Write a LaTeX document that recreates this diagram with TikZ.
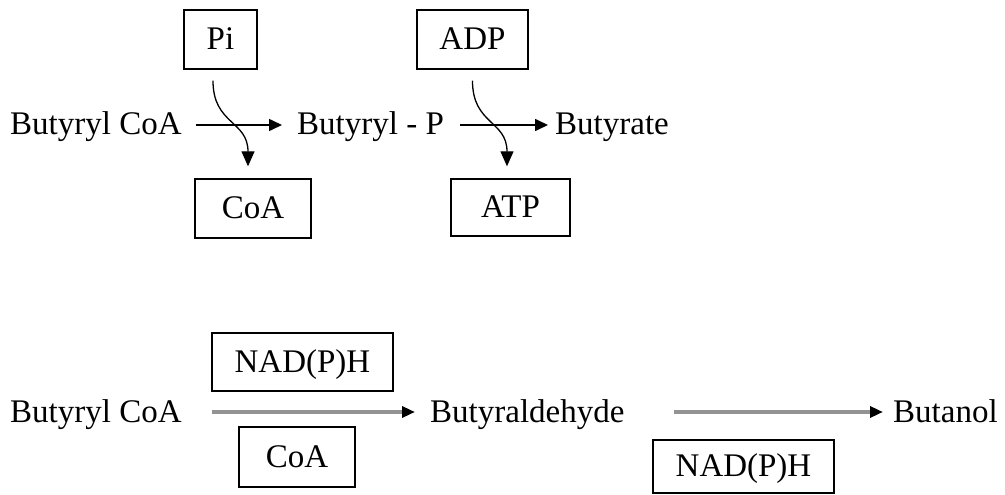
\documentclass[tikz,border=0pt]{standalone}
\usepackage{fontspec}
\setmainfont{Liberation Serif}
\usepackage{tikz}
\usetikzlibrary{arrows.meta, positioning}

\begin{document}
\begin{tikzpicture}[x=1pt, y=-1pt,
  every node/.style={font=\fontsize{33}{40}\selectfont},
  chem/.style={inner sep=0pt, anchor=west, text height=25pt, text depth=5pt},
  box/.style={draw, line width=1.4pt, inner sep=0pt, text height=25pt, text depth=5pt},
  arr/.style={line width=1.6pt, -{Triangle[length=13pt, width=12pt]}},
  sidearr/.style={line width=1.3pt, -{Triangle[length=15pt, width=13pt]}},
  garr/.style={line width=3.5pt, draw=gray!85, -{Triangle[length=13pt, width=11pt, color=black, fill=black]}}]
\useasboundingbox (0,0) rectangle (1005,495);

\node[chem] (bcoa1) at (10,125) {Butyryl CoA};
\node[chem] (bp) at (297,125) {Butyryl - P};
\node[chem] (bt) at (555,125) {Butyrate};
\node[box, minimum width=73pt, minimum height=59pt] (pi) at (220.5,39.5) {Pi};
\node[box, minimum width=111pt, minimum height=59pt] (adp) at (472.5,39.5) {ADP};
\node[box, minimum width=116pt, minimum height=59pt] (coa1) at (253,208.5) {CoA};
\node[box, minimum width=119pt, minimum height=57pt] (atp) at (510.5,207.5) {ATP};

\draw[arr] ([xshift=14pt]bcoa1.east) -- ([xshift=-15pt]bp.west);
\draw[arr] ([xshift=16pt]bp.east) -- ([xshift=-7pt]bt.west);
\draw[sidearr] ([shift={(-7.5,11)}]pi.south) .. controls +(0,44) and +(0,-46) .. ([shift={(-5,-12)}]coa1.north);
\draw[sidearr] ([shift={(0,11)}]adp.south) .. controls +(0,44) and +(0,-46) .. ([shift={(-3.5,-12)}]atp.north);

\node[chem] (bcoa2) at (10,412) {Butyryl CoA};
\node[chem] (bald) at (430,412) {Butyraldehyde};
\node[chem] (buol) at (893,412) {Butanol};
\node[box, minimum width=181pt, minimum height=58pt] (nadph1) at (302.5,362) {NAD(P)H};
\node[box, minimum width=116pt, minimum height=60pt] (coa2) at (297,457) {CoA};
\node[box, minimum width=181pt, minimum height=53pt] (nadph2) at (743.5,466.5) {NAD(P)H};

\draw[garr] ([xshift=30pt]bcoa2.east) -- ([xshift=-15pt]bald.west);
\draw[garr] ([xshift=49pt]bald.east) -- ([xshift=-10pt]buol.west);
\end{tikzpicture}
\end{document}
